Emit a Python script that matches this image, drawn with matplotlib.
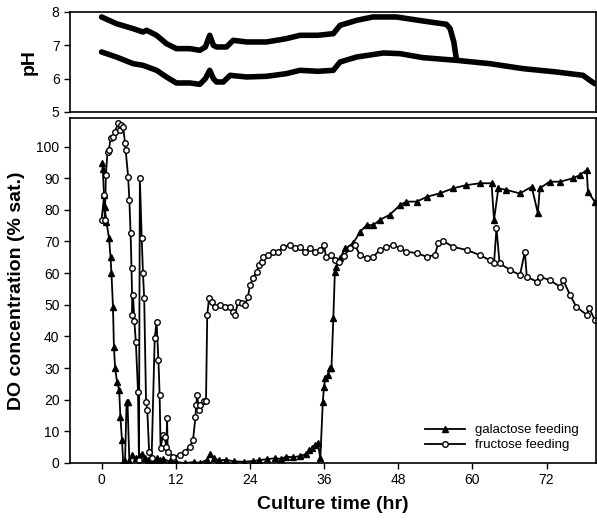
import matplotlib
matplotlib.use("Agg")
import matplotlib.pyplot as plt

plt.rcParams['font.family'] = ['Liberation Sans', 'DejaVu Sans']

# pH (top panel)
gal_ph_t = [0, 2.4, 5.1, 6.7, 7.3, 8.9, 10.5, 12.1, 14.3, 15.9, 16.8, 17.5, 18.1, 18.6,
            20.2, 21.3, 23.5, 26.7, 29.9, 32.1, 35, 37.5, 38.6, 41.3, 43.9, 47.7, 52,
            55.8, 56.4, 57.0, 57.4]
gal_ph = [7.85, 7.65, 7.5, 7.4, 7.45, 7.3, 7.05, 6.9, 6.9, 6.85, 6.95, 7.3, 7.0, 6.95,
          6.95, 7.15, 7.1, 7.1, 7.2, 7.3, 7.3, 7.35, 7.6, 7.75, 7.85, 7.85, 7.73,
          7.63, 7.5, 7.1, 6.6]
fru_ph_t = [0, 2.4, 5.1, 6.7, 8.9, 10.5, 12.1, 14.3, 15.9, 16.8, 17.5, 18.1, 18.6, 19.7,
            20.8, 23.5, 26.7, 29.9, 32.1, 35, 37.5, 38.6, 41.3, 45.6, 48.3, 52, 57.4,
            62.8, 68.2, 73.6, 77.9, 79, 79.8]
fru_ph = [6.8, 6.65, 6.45, 6.4, 6.25, 6.05, 5.87, 5.87, 5.83, 6.0, 6.25, 6.0, 5.9, 5.9,
          6.1, 6.05, 6.07, 6.15, 6.25, 6.22, 6.25, 6.5, 6.65, 6.77, 6.75, 6.63, 6.55,
          6.45, 6.3, 6.2, 6.1, 5.95, 5.85]

# DO (bottom panel)
gal_t = [0.1, 0.2, 0.4, 0.5, 0.8, 1.2, 1.45, 1.6, 1.85, 2.0, 2.2, 2.5, 2.85, 3.05, 3.3,
         3.5, 3.8, 4.05, 4.2, 4.5, 5.0, 5.5, 6.0, 6.5, 7.0, 7.5, 8.0, 8.5, 9.0, 9.5,
         10.0, 11.0, 12.0, 13.5, 15.0, 16.0, 17.0, 17.6, 18.2, 19.0, 20.2, 21.5, 23.0,
         24.5, 25.5, 26.7, 28, 29, 29.9, 31, 32.1, 33, 33.6, 34, 34.5, 35, 35.4, 35.8,
         36, 36.2, 36.6, 36.9, 37.2, 37.5, 37.75, 38, 38.6, 39.4, 40.7, 41.8, 42.9, 44,
         45, 46.6, 48.3, 49.3, 51, 52.6, 54.7, 56.9, 59, 61.2, 63.1, 63.5, 64.2, 65.5,
         67.7, 69.6, 70.6, 70.9, 72.5, 74.2, 76.3, 77.4, 78.5, 78.7, 79.8]
gal_do = [94.7, 92.8, 84.7, 81, 76, 71.2, 65.2, 60, 49.4, 36.7, 29.9, 25.7, 23, 14.6, 7.3,
          0.4, 0.5, 19.4, 19.2, 0.5, 2.5, 1.5, 2, 3, 1.5, 1, 2, 1, 1.5, 0.8,
          1.2, 0.5, 0.3, 0, 0.3, 0, 1, 3, 1.5, 0.8, 1, 0.5, 0.4,
          0.6, 0.9, 1.2, 1.5, 1.3, 2, 1.8, 2.2, 2.8, 4, 4.6, 5.7, 6.2, 1.5, 19.4,
          24.1, 26.8, 27.8, 29.9, 30, 45.7, 60.4, 62, 64.7, 67.8, 69.4, 73, 75.2, 75.2,
          76.8, 78.4, 81.5, 82.6, 82.6, 84.1, 85.2, 86.8, 87.8, 88.4, 88.4, 76.8, 86.8, 86.3,
          85.2, 87.3, 78.9, 86.8, 88.9, 88.9, 90, 91, 92.6, 85.7, 82.6]

fru_t = [0, 0.43, 0.53, 0.7, 0.97, 1.2, 1.45, 1.9, 2.15, 2.7, 3.0, 3.2, 3.5, 3.8, 3.9,
         4.3, 4.5, 4.7, 4.85, 5.0, 5.1, 5.3, 5.55, 5.9, 6.05, 6.2, 6.5, 6.7, 6.9, 7.2,
         7.4, 7.7, 8.1, 8.6, 8.9, 9.2, 9.4, 9.55, 9.9, 10.2, 10.5, 10.6, 10.7, 11.6,
         12.7, 13.5, 14.3, 14.8, 15.2, 15.3, 15.5, 15.7, 16.0, 16.5, 16.9, 17.1, 17.4,
         17.8, 18.3, 19.1, 20, 20.8, 21.3, 21.6, 22.1, 22.7, 23.2, 23.7, 24, 24.5, 25.1,
         25.5, 25.9, 26.2, 27, 27.8, 28.6, 29.4, 30.5, 31.3, 32.1, 32.9, 33.7, 34.5,
         35.3, 36, 36.3, 37.2, 37.75, 38.4, 39.2, 40.2, 41, 41.8, 42.9, 44, 45, 46.1,
         47.2, 48.3, 49.3, 51, 52.6, 53.9, 54.5, 55.3, 56.9, 59.1, 61.2, 62.8, 63.5,
         63.9, 64.4, 66.1, 67.7, 68.5, 68.8, 70.4, 70.9, 72.5, 74.2, 74.7, 75.8, 76.8,
         78.5, 78.9, 79.8]
fru_do = [76.8, 84.7, 76.8, 91, 98.4, 98.9, 102.6, 103.1, 104.7, 107.3, 105.2, 106.8,
          106.3, 101, 98.9, 90.5, 83.1, 72.6, 61.5, 46.8, 53.1, 45, 38.3, 22.5, 1, 90,
          71, 60, 52, 19.4, 16.7, 3.6, 1.5, 39.4, 44.6, 32.5, 21.5, 4.6, 8.8, 8.3, 5,
          14.1, 3.6, 2, 2.5, 3.6, 5.2, 7.3, 14.6, 18.3, 21.5, 16.7, 18.3, 19.6, 19.6,
          46.8, 52.2, 51, 49.4, 49.9, 49.4, 49.4, 47.8, 46.8, 51, 50.5, 49.9, 52.5, 56.2,
          58.4, 60.4, 62.6, 63.6, 65.2, 65.7, 66.8, 66.8, 68.3, 68.9, 67.8, 68.3, 66.8,
          67.8, 66.8, 67.3, 68.9, 65.2, 65.7, 64.1, 63.6, 65.5, 67.8, 68.9, 65.7, 64.7,
          65.2, 67.3, 68.3, 68.9, 67.8, 66.8, 66.3, 65.2, 65.7, 69.4, 70.1, 68.3, 67.3,
          65.7, 64.1, 63.1, 74.2, 63.1, 61, 59.4, 66.8, 58.9, 57.3, 58.9, 57.8, 55.7,
          57.8, 53.1, 49.4, 46.8, 49, 45.2]

x_ticks = [0, 12, 24, 36, 48, 60, 72]

fig = plt.figure(figsize=(5.97, 5.25), dpi=100)
ax_ph = fig.add_axes([0.1173, 0.7867, 0.881, 0.1905])
ax = fig.add_axes([0.1173, 0.1181, 0.881, 0.657])

# top panel
ax_ph.plot(gal_ph_t, gal_ph, color='black', lw=4, solid_capstyle='round')
ax_ph.plot(fru_ph_t, fru_ph, color='black', lw=4, solid_capstyle='round')
ax_ph.set_xlim(-5.1, 80)
ax_ph.set_ylim(5, 8)
ax_ph.set_yticks([5, 6, 7, 8])
ax_ph.set_xticks([])
ax_ph.set_ylabel('pH', fontsize=14, fontweight='bold', labelpad=10)

# bottom panel
ax.plot(gal_t, gal_do, color='black', lw=1.3, marker='^', ms=4,
        mfc='black', mec='black', label='galactose feeding')
ax.plot(fru_t, fru_do, color='black', lw=1.3, marker='o', ms=4,
        mfc='white', mec='black', mew=1, label='fructose feeding')
ax.set_xlim(-5.1, 80)
ax.set_ylim(0, 109)
ax.set_xticks(x_ticks)
ax.set_yticks(range(0, 101, 10))
ax.set_xlabel('Culture time (hr)', fontsize=14, fontweight='bold', labelpad=6)
ax.set_ylabel('DO concentration (% sat.)', fontsize=14, fontweight='bold', labelpad=8)
ax.legend(loc='lower right', bbox_to_anchor=(0.99, 0.0), frameon=False,
          fontsize=9.5, handlelength=3, handletextpad=0.8, labelspacing=0.2)

for a in (ax_ph, ax):
    for s in a.spines.values():
        s.set_linewidth(1.2)
    a.tick_params(direction='out', length=4, width=1, labelsize=10)

fig.savefig('out.png', dpi=100)
